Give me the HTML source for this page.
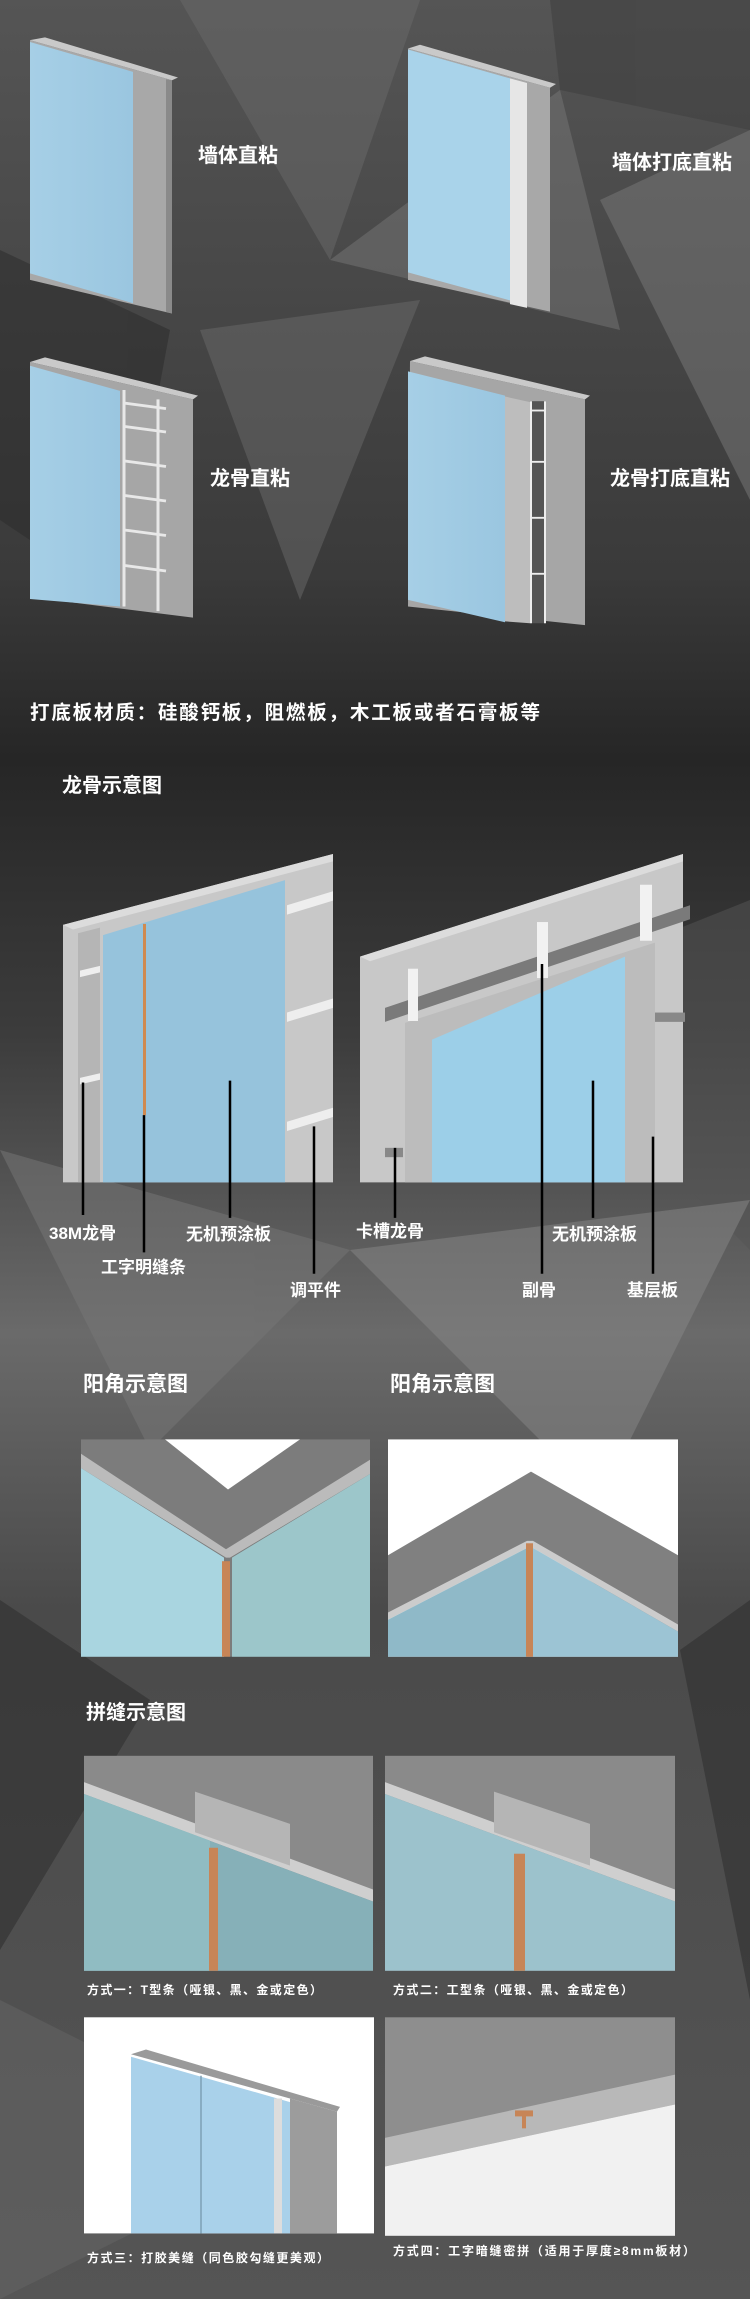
<!DOCTYPE html>
<html><head><meta charset="utf-8"><style>
html,body{margin:0;padding:0;background:#3a3a3a}
svg{display:block}
text{font-family:"Liberation Sans","Noto Sans CJK SC",sans-serif;font-weight:bold;fill:#fff}
</style></head><body>
<svg width="750" height="2299" viewBox="0 0 750 2299" xmlns="http://www.w3.org/2000/svg">
<defs>
<linearGradient id="bg" x1="0" y1="0" x2="0" y2="1">
<stop offset="0" stop-color="#555"/><stop offset="0.25" stop-color="#3a3a3a"/><stop offset="0.33" stop-color="#262626"/><stop offset="0.45" stop-color="#3c3c3c"/><stop offset="0.58" stop-color="#6a6a6a"/><stop offset="0.7" stop-color="#4a4a4a"/><stop offset="1" stop-color="#555"/>
</linearGradient>
<linearGradient id="bl" x1="0" y1="0" x2="1" y2="0"><stop offset="0" stop-color="#a6cfe6"/><stop offset="1" stop-color="#9ac6e0"/></linearGradient>
</defs>
<rect width="750" height="2299" fill="url(#bg)"/>
<g opacity="0.5">
<polygon points="180,0 420,0 330,260" fill="#6a6a6a"/>
<polygon points="550,0 750,0 750,130 560,90" fill="#3d3d3d"/>
<polygon points="330,260 560,90 620,330" fill="#777"/>
<polygon points="600,200 750,130 750,500" fill="#7a7a7a"/>
<polygon points="0,250 170,330 120,600 0,520" fill="#2a2a2a"/>
<polygon points="200,330 420,300 300,600" fill="#6a6a6a"/>
<polygon points="500,1000 750,900 750,1250" fill="#555"/>
<polygon points="0,1150 350,1250 150,1450" fill="#777"/>
<polygon points="350,1250 750,1200 600,1500" fill="#888"/>
<polygon points="0,1600 150,1700 0,1950" fill="#2a2a2a"/>
<polygon points="680,1650 750,1600 750,2000" fill="#2a2a2a"/>
<polygon points="0,2000 300,2150 0,2299" fill="#666"/>
</g>

<g transform="scale(1,0.933)">
<!-- Panel 1 -->
<polygon points="30,43 172,86 172,336 30,300" fill="#a8a8a8"/>
<polygon points="30,43 45,40 178,83 172,86" fill="#c9c9c9"/>
<polygon points="166,85 172,86 172,336 166,334" fill="#8a8a8a"/>
<polygon points="30,45 133,77 133,325 30,293" fill="url(#bl)"/>
<!-- Panel 2 -->
<polygon points="408,52 550,94 550,334 408,300" fill="#a8a8a8"/>
<polygon points="408,52 420,48 556,90 550,94" fill="#c9c9c9"/>
<polygon points="510,84 527,89 527,330 510,326" fill="#e6e6e6"/>
<polygon points="408,53 510,84 510,322 408,292" fill="#a9d3ea"/>
<!-- Panel 3 -->
<polygon points="30,388 193,428 193,662 30,640" fill="#a6a6a6"/>
<polygon points="30,388 45,383 198,424 193,428" fill="#c9c9c9"/>
<g stroke="#e8e8e8" stroke-width="3" fill="none">
<line x1="124" y1="418" x2="124" y2="650"/><line x1="158" y1="428" x2="158" y2="655"/>
<line x1="124" y1="432" x2="166" y2="438"/><line x1="124" y1="457" x2="166" y2="463"/><line x1="124" y1="494" x2="166" y2="500"/><line x1="124" y1="531" x2="166" y2="537"/><line x1="124" y1="568" x2="166" y2="574"/><line x1="124" y1="606" x2="166" y2="612"/>
</g>
<polygon points="30,392 120,419 120,650 30,642" fill="url(#bl)"/>
<!-- Panel 4 -->
<polygon points="410,387 585,428 585,670 408,650" fill="#a6a6a6"/>
<polygon points="410,387 425,382 590,424 585,428" fill="#c9c9c9"/>
<polygon points="505,425 530,431 530,668 505,666" fill="#bdbdbd"/>
<rect x="530" y="430" width="16" height="238" fill="#555"/>
<g stroke="#eee" stroke-width="2"><line x1="531" y1="430" x2="531" y2="668"/><line x1="545" y1="430" x2="545" y2="668"/>
<line x1="531" y1="440" x2="545" y2="440"/><line x1="531" y1="495" x2="545" y2="495"/><line x1="531" y1="555" x2="545" y2="555"/><line x1="531" y1="615" x2="545" y2="615"/></g>
<polygon points="408,398 505,424 505,667 408,643" fill="url(#bl)"/>
</g>
<text x="198" y="162" font-size="20">墙体直粘</text>
<text x="612" y="169" font-size="20">墙体打底直粘</text>
<text x="210" y="485" font-size="20">龙骨直粘</text>
<text x="610" y="485" font-size="20">龙骨打底直粘</text>

<text x="30" y="719" font-size="19.5" textLength="510">打底板材质：硅酸钙板，阻燃板，木工板或者石膏板等</text>
<text x="62" y="792" font-size="20">龙骨示意图</text>

<g transform="translate(0,700) scale(1,0.933) translate(0,-700)">
<polygon points="63,941 333,865 333,1217 63,1217" fill="#c8c8c8"/>
<polygon points="63,941 333,865 333,873 73,946" fill="#dcdcdc"/>
<polygon points="78,950 100,944 100,1217 78,1217" fill="#b5b5b5"/>
<polygon points="103,952 285,893 285,1217 103,1217" fill="#96c3dc"/>
<rect x="143" y="940" width="3" height="205" fill="#d08a50"/>
<g fill="#eee"><polygon points="80,990 100,985 100,992 80,997"/><polygon points="80,1105 100,1100 100,1107 80,1112"/>
<polygon points="287,920 333,905 333,915 287,930"/><polygon points="287,1035 333,1020 333,1030 287,1045"/><polygon points="287,1152 333,1137 333,1147 287,1162"/></g>
<polygon points="360,975 683,865 683,1217 360,1217" fill="#c8c8c8"/>
<polygon points="360,975 683,865 683,873 370,980" fill="#dcdcdc"/>
<polygon points="405,1046 655,960 655,1217 405,1217" fill="#bcbcbc"/>
<polygon points="385,1030 690,920 690,935 385,1045" fill="#7a7a7a"/>
<polygon points="432,1064 625,975 625,1217 432,1217" fill="#9ccfe8"/>
<g fill="#f2f2f2"><rect x="408" y="988" width="10" height="56"/><rect x="537" y="938" width="11" height="60"/><rect x="640" y="898" width="12" height="60"/></g>
<g fill="#888"><rect x="385" y="1180" width="18" height="10"/><rect x="655" y="1035" width="30" height="10"/></g>
<g stroke="#000" stroke-width="2.5">
<line x1="83" y1="1110" x2="83" y2="1252"/><line x1="144" y1="1145" x2="144" y2="1292"/>
<line x1="230" y1="1108" x2="230" y2="1255"/><line x1="314" y1="1157" x2="314" y2="1315"/>
<line x1="395" y1="1180" x2="395" y2="1255"/><line x1="542" y1="983" x2="542" y2="1315"/>
<line x1="593" y1="1108" x2="593" y2="1255"/><line x1="653" y1="1168" x2="653" y2="1315"/>
</g>
</g>
<g font-size="17">
<text x="49" y="1239">38M龙骨</text>
<text x="101" y="1273">工字明缝条</text>
<text x="186" y="1240">无机预涂板</text>
<text x="290" y="1296">调平件</text>
<text x="356" y="1237">卡槽龙骨</text>
<text x="552" y="1240">无机预涂板</text>
<text x="522" y="1296">副骨</text>
<text x="627" y="1296">基层板</text>
</g>
<text x="83" y="1391" font-size="21">阳角示意图</text>
<text x="390" y="1391" font-size="21">阳角示意图</text>

<g transform="translate(0,1400) scale(1,1.194) translate(0,-1400)">
<rect x="81" y="1433" width="289" height="182" fill="#7c7c7c"/>
<polygon points="165,1433 300,1433 228,1475" fill="#fff"/>
<polygon points="81,1445 226,1525 370,1450 370,1462 230,1532 226,1532 81,1457" fill="#bbb"/>
<polygon points="81,1457 224,1532 224,1615 81,1615" fill="#a9d5e0"/>
<polygon points="232,1532 370,1462 370,1615 232,1615" fill="#9cc6ca"/>
<rect x="222" y="1535" width="8" height="80" fill="#c78557"/>
<rect x="388" y="1433" width="290" height="182" fill="#fff"/>
<polygon points="388,1530 531,1460 678,1530 678,1600 533,1520 527,1520 388,1580" fill="#808080"/>
<polygon points="388,1578 527,1518 533,1518 678,1588 678,1594 533,1524 527,1524 388,1584" fill="#ccc"/>
<polygon points="388,1584 527,1524 527,1615 388,1615" fill="#8fb9c8"/>
<polygon points="533,1524 678,1594 678,1615 533,1615" fill="#9cc4d4"/>
<rect x="526" y="1520" width="7" height="95" fill="#c78557"/>

<rect x="84" y="1698" width="289" height="180" fill="#8a8a8a"/>
<polygon points="84,1720 373,1810 373,1820 84,1730" fill="#cfcfcf"/>
<polygon points="84,1730 373,1820 373,1878 84,1878" fill="#86b0b8"/>
<polygon points="84,1730 210,1769 210,1878 84,1878" fill="#90bcc2"/>
<polygon points="195,1728 290,1755 290,1790 195,1762" fill="#b5b5b5"/>
<rect x="209" y="1775" width="9" height="103" fill="#c78557"/>
<rect x="385" y="1698" width="290" height="180" fill="#8a8a8a"/>
<polygon points="385,1720 675,1810 675,1820 385,1730" fill="#cfcfcf"/>
<polygon points="385,1730 675,1820 675,1878 385,1878" fill="#9cc2cc"/>
<polygon points="494,1728 590,1755 590,1790 494,1762" fill="#b5b5b5"/>
<rect x="514" y="1780" width="11" height="98" fill="#c78557"/>

<rect x="84" y="1917" width="290" height="181" fill="#fff"/>
<polygon points="131,1948 146,1944 340,1992 337,1996" fill="#9a9a9a"/>
<polygon points="290,1985 337,1996 337,2098 290,2098" fill="#9c9c9c"/>
<polygon points="131,1950 290,1988 290,2098 131,2098" fill="#a9d1ea"/>
<line x1="201" y1="1966" x2="201" y2="2098" stroke="#7d9fb4" stroke-width="1.5"/>
<rect x="274" y="1985" width="8" height="113" fill="#ddd"/>
<rect x="385" y="1917" width="290" height="183" fill="#8e8e8e"/>
<polygon points="385,2018 675,1965 675,1990 385,2042" fill="#b8b8b8"/>
<polygon points="385,2042 675,1990 675,2100 385,2100" fill="#f1f1f1"/>
<rect x="515" y="1995" width="18" height="5" fill="#c78557"/>
<rect x="522" y="1998" width="4" height="12" fill="#c78557"/>
</g>
<text x="86" y="1719" font-size="20">拼缝示意图</text>
<text x="87" y="1994" font-size="12" textLength="235">方式一：T型条（哑银、黑、金或定色）</text>
<text x="393" y="1994" font-size="12" textLength="240">方式二：工型条（哑银、黑、金或定色）</text>
<text x="87" y="2262" font-size="12" textLength="242">方式三：打胶美缝（同色胶勾缝更美观）</text>
<text x="393" y="2255" font-size="12" textLength="302">方式四：工字暗缝密拼（适用于厚度≥8mm板材）</text>
</svg>
</body></html>
